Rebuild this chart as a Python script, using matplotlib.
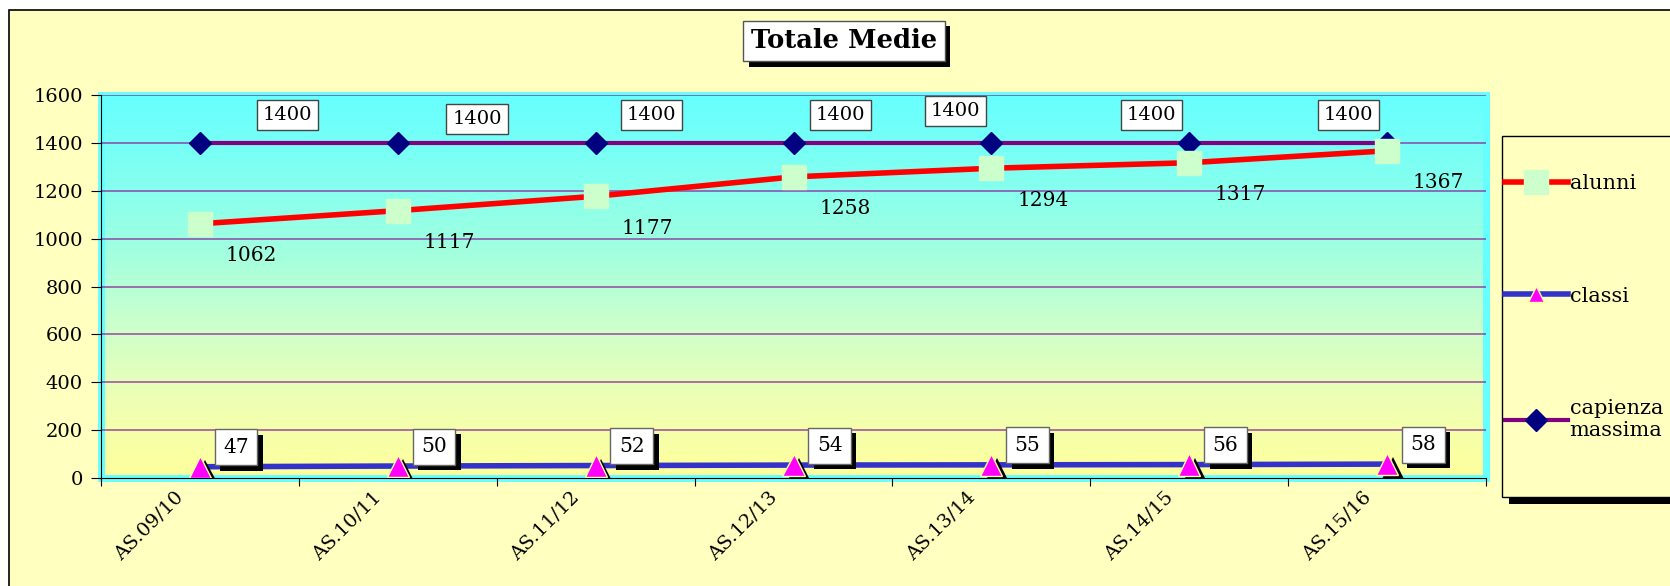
import matplotlib
matplotlib.use("Agg")
import matplotlib.pyplot as plt
import matplotlib.patheffects as pe
from matplotlib.colors import LinearSegmentedColormap
from matplotlib.patches import Rectangle
from matplotlib.transforms import ScaledTranslation
import numpy as np

plt.rcParams['font.family'] = ['DejaVu Serif']

# data
anni = ["AS.09/10", "AS.10/11", "AS.11/12", "AS.12/13", "AS.13/14", "AS.14/15", "AS.15/16"]
alunni = [1062, 1117, 1177, 1258, 1294, 1317, 1367]
classi = [47, 50, 52, 54, 55, 56, 58]
capienza = [1400, 1400, 1400, 1400, 1400, 1400, 1400]

# hand placed offsets (points) of the "capienza" value boxes
cap_dx = [63, 57, 40, 34, -26, -27, -28]
cap_dy = [20, 17, 20, 20, 23, 20, 20]

W, H = 1670, 586
fig = plt.figure(figsize=(W / 100, H / 100), dpi=100, facecolor='white')

# chart area frame (light yellow with black border)
fig.patches.append(Rectangle((9 / W, -0.1), 1.2, 1 - 10 / H + 0.1, transform=fig.transFigure,
                             facecolor='#ffffc0', edgecolor='black', linewidth=1.2, zorder=-10))

ax = fig.add_axes([101 / W, 1 - 478 / H, (1486 - 101) / W, (478 - 95) / H])
ax.set_facecolor('none')
x = np.arange(len(anni))
ax.set_xlim(-0.5, len(anni) - 0.5)
ax.set_ylim(0, 1600)

# gradient wall
cmap = LinearSegmentedColormap.from_list('wall', ['#ffff9c', '#eeffb4', '#ccffcc', '#a0ffe0', '#80fff2', '#66ffff'])
grad = np.linspace(0, 1, 256).reshape(-1, 1)
ax.imshow(grad, cmap=cmap, aspect='auto', origin='lower', extent=[0, 1, 0, 1],
          transform=ax.transAxes, zorder=0)
ax.add_patch(Rectangle((0, 0), 1, 1, transform=ax.transAxes, fill=False, edgecolor='#66ffff',
                       linewidth=5, zorder=0.5, clip_on=False))

for g in range(200, 1601, 200):
    ax.axhline(g, color='#8a1a9a', linewidth=1.1, alpha=0.8, zorder=1)

# series
ax.plot(x, capienza, color='#800080', linewidth=3, marker='D', markersize=11,
        markerfacecolor='#000080', markeredgecolor='#000080', zorder=3, label='capienza\nmassima')
ax.plot(x, alunni, color='#ff0000', linewidth=4, marker='s', markersize=17,
        markerfacecolor='#ccffcc', markeredgecolor='#ccffcc', zorder=4, label='alunni')
ax.plot(x, classi, color='#3333cc', linewidth=4, zorder=3)
ax.plot(x, classi, linestyle='none', marker='^', markersize=16, markerfacecolor='#ff00ff',
        markeredgecolor='#ffff99', markeredgewidth=1, zorder=4,
        path_effects=[pe.SimplePatchShadow(offset=(4, -3), shadow_rgbFace='black', alpha=1), pe.Normal()])
cl_handle, = ax.plot([], [], color='#3333cc', linewidth=4, marker='^', markersize=11,
                     markerfacecolor='#ff00ff', markeredgecolor='#ffff99', label='classi')

# value labels
for i, v in enumerate(alunni):
    ax.annotate(str(v), (i, v), xytext=(37, -23), textcoords='offset points',
                ha='center', va='center', fontsize=14.5, zorder=6)

for i, v in enumerate(capienza):
    ax.annotate(str(v), (i, v), xytext=(cap_dx[i], cap_dy[i]), textcoords='offset points',
                ha='center', va='center', fontsize=14, zorder=6,
                bbox=dict(boxstyle='square,pad=0.3', facecolor='white', edgecolor='#444444', linewidth=1))

for i, v in enumerate(classi):
    t = ax.annotate(str(v), (i, v), xytext=(26, 14), textcoords='offset points',
                    ha='center', va='center', fontsize=14.5, zorder=6,
                    bbox=dict(boxstyle='square,pad=0.42', facecolor='white', edgecolor='#666666', linewidth=1))
    t.get_bbox_patch().set_path_effects([pe.SimplePatchShadow(offset=(4, -4), shadow_rgbFace='black', alpha=1),
                                         pe.Normal()])

# axes
for s in ['top', 'right']:
    ax.spines[s].set_visible(False)
ax.spines['left'].set_zorder(2)
ax.spines['bottom'].set_zorder(2)
ax.set_yticks(range(0, 1601, 200))
ax.tick_params(axis='y', labelsize=14, length=7, direction='out', pad=6)
ax.set_xticks(np.arange(-0.5, len(anni), 1))
ax.set_xticklabels([])
ax.set_xticks(x, minor=True)
ax.set_xticklabels(anni, minor=True, rotation=45, ha='right', va='center',
                   rotation_mode='anchor', fontsize=14)
ax.tick_params(axis='x', which='major', length=6, direction='out')
ax.tick_params(axis='x', which='minor', length=0, pad=12)
for lab in ax.get_xticklabels(minor=True):
    lab.set_transform(lab.get_transform() + ScaledTranslation(-0.19, 0, fig.dpi_scale_trans))

# title
tt = fig.text(844 / W, 1 - 41 / H, 'Totale Medie', ha='center', va='center', fontsize=18.5, weight='bold',
              bbox=dict(boxstyle='square,pad=0.3', facecolor='white', edgecolor='#555555', linewidth=1))
tt.get_bbox_patch().set_path_effects([pe.SimplePatchShadow(offset=(4, -4), shadow_rgbFace='black', alpha=1),
                                      pe.Normal()])

# legend box (runs past the right edge, as in the original)
lb = Rectangle((1502 / W, 1 - 497 / H), 0.2, (497 - 136) / H, transform=fig.transFigure,
               facecolor='#ffffc0', edgecolor='black', linewidth=1, zorder=-5,
               path_effects=[pe.SimplePatchShadow(offset=(5, -5), shadow_rgbFace='black', alpha=1), pe.Normal()])
fig.patches.append(lb)

h, l = ax.get_legend_handles_labels()
order = [l.index('alunni'), l.index('classi'), l.index('capienza\nmassima')]
leg = fig.legend([h[k] for k in order], [l[k] for k in order], loc='upper left',
                 bbox_to_anchor=(1505 / W, 1 - 174 / H), fontsize=15, frameon=False,
                 handlelength=3.0, handletextpad=0.1, labelspacing=4.5, borderpad=0,
                 borderaxespad=0)

fig.savefig('out.png', dpi=100, facecolor='white')
